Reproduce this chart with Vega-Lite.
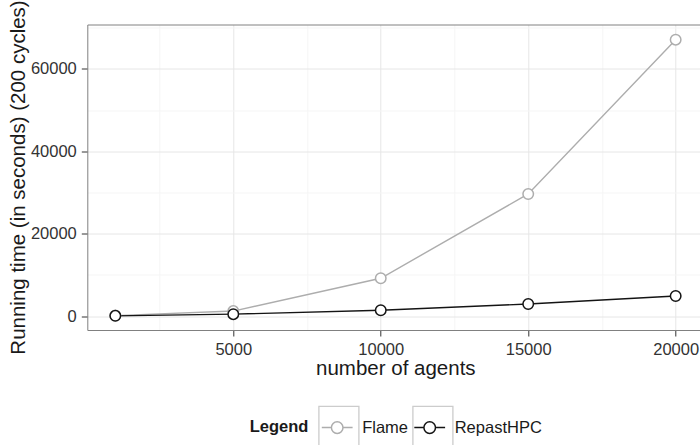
{
  "$schema": "https://vega.github.io/schema/vega-lite/v6.json",
  "width": 612.7,
  "height": 305.5,
  "autosize": {"type": "none"},
  "padding": {"left": 87.3, "top": 24.5, "right": 0, "bottom": 115},
  "background": "white",
  "config": {
    "view": {"stroke": null},
    "font": "Liberation Sans",
    "axis": {
      "labelFont": "Liberation Sans",
      "titleFont": "Liberation Sans",
      "labelFontSize": 16.5,
      "titleFontSize": 20.5,
      "titleFontWeight": "normal",
      "labelColor": "#333333",
      "titleColor": "#1a1a1a",
      "tickColor": "#333333",
      "tickSize": 6,
      "tickWidth": 1,
      "domainColor": "#808080",
      "domainWidth": 1,
      "gridWidth": 1,
      "labelOverlap": false,
      "labelFlush": false
    }
  },
  "data": {
    "values": [
      {"agents": 1000, "time": 100, "series": "Flame", "key": "Flame"},
      {"agents": 5000, "time": 1200, "series": "Flame", "key": "Flame"},
      {"agents": 10000, "time": 9160, "series": "Flame", "key": "Flame"},
      {"agents": 15000, "time": 29640, "series": "Flame", "key": "Flame"},
      {"agents": 20000, "time": 67120, "series": "Flame", "key": "Flame"},
      {"agents": 1000, "time": 40, "series": "RepastHPC", "key": "RepastHPC"},
      {"agents": 5000, "time": 450, "series": "RepastHPC", "key": "RepastHPC"},
      {"agents": 10000, "time": 1385, "series": "RepastHPC", "key": "RepastHPC"},
      {"agents": 15000, "time": 2915, "series": "RepastHPC", "key": "RepastHPC"},
      {"agents": 20000, "time": 4860, "series": "RepastHPC", "key": "RepastHPC"}
    ]
  },
  "encoding": {
    "y": {
      "field": "time",
      "type": "quantitative",
      "scale": {"domain": [-3400, 70800], "nice": false, "zero": false},
      "axis": {
        "values": [0, 10000, 20000, 30000, 40000, 50000, 60000, 70000],
        "labelExpr": "datum.value % 20000 === 0 ? format(datum.value, 'd') : ''",
        "tickOpacity": {"condition": {"test": "datum.value % 20000 === 0", "value": 1}, "value": 0},
        "gridColor": {"condition": {"test": "datum.value % 20000 === 0", "value": "#e6e6e6"}, "value": "#f5f5f5"},
        "grid": true,
        "labelPadding": 5,
        "title": "Running time (in seconds) (200 cycles)",
        "titleX": -62.8,
        "titleY": 152.5,
        "titleAngle": -90,
        "titleAlign": "center",
        "titleBaseline": "alphabetic"
      }
    },
    "stroke": {
      "field": "series",
      "type": "nominal",
      "scale": {"range": ["#adadad", "#141414"]},
      "legend": {
        "title": "Legend",
        "orient": "none",
        "legendX": 162.4,
        "legendY": 382,
        "direction": "horizontal",
        "padding": 0,
        "titleOrient": "left",
        "titlePadding": 7.5,
        "titleFont": "Liberation Sans",
        "titleFontSize": 16.5,
        "titleFontWeight": "bold",
        "titleColor": "#1a1a1a",
        "titleBaseline": "line-top",
        "titleLineHeight": 10.5,
        "titleAnchor": "middle",
        "labelFont": "Liberation Sans",
        "labelFontSize": 16.5,
        "labelColor": "#1a1a1a",
        "labelOffset": 4,
        "columnPadding": 0.5,
        "symbolType": "M-0.77,0H-0.29M0.29,0H0.77M-0.29,0A0.29,0.29,0,1,1,0.29,0A0.29,0.29,0,1,1,-0.29,0Z",
        "symbolSize": 1600,
        "symbolStrokeWidth": 1.5,
        "symbolFillColor": "white",
        "symbolOpacity": 1,
        "zindex": 2,
        "encode": {"symbols": {"update": {"fill": {"value": "white"}, "strokeWidth": {"value": 1.5}, "opacity": {"value": 1}}}}
      }
    }
  },
  "layer": [
    {
      "mark": {"type": "line", "strokeWidth": 1.4},
      "encoding": {
        "x": {
          "field": "agents",
          "type": "quantitative",
          "scale": {"domain": [50, 20825], "nice": false, "zero": false},
          "axis": {
            "orient": "bottom",
            "values": [2500, 5000, 7500, 10000, 12500, 15000, 17500, 20000],
            "labelExpr": "datum.value % 5000 === 0 ? format(datum.value, 'd') : ''",
            "tickOpacity": {"condition": {"test": "datum.value % 5000 === 0", "value": 1}, "value": 0},
            "gridColor": {"condition": {"test": "datum.value % 5000 === 0", "value": "#e6e6e6"}, "value": "#f5f5f5"},
            "grid": true,
            "labelPadding": 5,
            "title": "number of agents",
            "titleX": 308,
            "titleY": 44.5,
            "titleAlign": "center",
            "titleBaseline": "alphabetic"
          }
        }
      }
    },
    {
      "mark": {"type": "point", "shape": "circle", "filled": true, "size": 110, "strokeWidth": 1.5, "opacity": 1},
      "encoding": {
        "x": {
          "field": "agents",
          "type": "quantitative",
          "scale": {"domain": [50, 20825], "nice": false, "zero": false},
          "axis": {
            "orient": "top",
            "grid": false,
            "ticks": false,
            "labels": false,
            "title": null,
            "domain": true
          }
        },
        "fill": {
          "field": "key",
          "type": "nominal",
          "scale": {"range": ["white", "white"]},
          "legend": {
            "title": null,
            "orient": "none",
            "legendX": 230.6,
            "legendY": 382,
            "direction": "horizontal",
            "padding": 0,
            "labelExpr": "''",
            "labelFontSize": 16.5,
            "labelOffset": 4,
            "columnPadding": 46,
            "symbolType": "M-1,-1.08H1V1.08H-1Z",
            "symbolSize": 1600,
            "symbolStrokeColor": "#cccccc",
            "symbolStrokeWidth": 1.3,
            "symbolFillColor": "white",
            "zindex": 1,
            "encode": {"symbols": {"update": {"fill": {"value": "white"}, "stroke": {"value": "#cccccc"}, "strokeWidth": {"value": 1.3}, "opacity": {"value": 1}}}}
          }
        }
      }
    }
  ],
  "resolve": {"axis": {"x": "independent"}}
}
